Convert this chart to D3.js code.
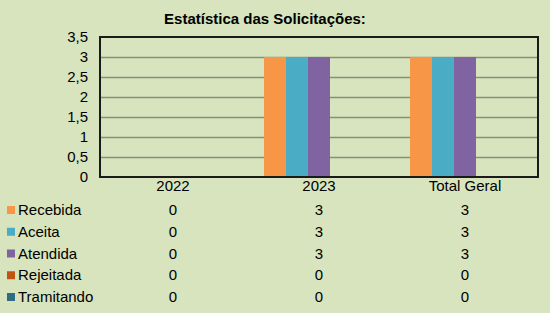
<!DOCTYPE html>
<html>
<head>
<meta charset="utf-8">
<script src="https://cdn.jsdelivr.net/npm/d3@7"></script>
<style>
	body { margin: 0; background: #D7E4BD; }
	svg { display: block; font-family: "Liberation Sans", Arial, sans-serif; }
</style>
</head>
<body>
<div id="chart"></div>
<script>
//Data
var categories = ["2022", "2023", "Total Geral"];
var series = ["Recebida", "Aceita", "Atendida", "Rejeitada", "Tramitando"];
var colors = ["#F79646", "#4BACC6", "#8064A2", "#C0550F", "#2E6E84"];
var values = [
	[0, 3, 3],	//Recebida
	[0, 3, 3],	//Aceita
	[0, 3, 3],	//Atendida
	[0, 0, 0],	//Rejeitada
	[0, 0, 0]	//Tramitando
];
var yTicks = [0, 0.5, 1, 1.5, 2, 2.5, 3, 3.5];

///////////////////////////////////////////////////////////////////////////
//////////////////////////// Set up svg ///////////////////////////////////
///////////////////////////////////////////////////////////////////////////

var width = 550, height = 313;
var plot = { left: 100, right: 538, top: 37, bottom: 177 };
var fontSize = "15px";

var svg = d3.select("#chart").append("svg")
	.attr("width", width)
	.attr("height", height);

svg.append("rect")
	.attr("width", width)
	.attr("height", height)
	.style("fill", "#D7E4BD");

//Title
svg.append("text")
	.attr("x", 265)
	.attr("y", 24)
	.attr("text-anchor", "middle")
	.style("font-size", fontSize)
	.style("font-weight", "bold")
	.style("fill", "#000")
	.text("Estatística das Solicitações:");

///////////////////////////////////////////////////////////////////////////
////////////////////////////// Scales /////////////////////////////////////
///////////////////////////////////////////////////////////////////////////

var x0 = d3.scaleBand()
	.domain(categories)
	.range([plot.left, plot.right]);

var x1 = d3.scaleBand()
	.domain(series)
	.range([0, x0.bandwidth()])
	.paddingOuter(0.82)
	.paddingInner(0);

var y = d3.scaleLinear()
	.domain([0, 3.5])
	.range([plot.bottom, plot.top]);

//Gridlines
svg.append("g")
	.selectAll("line")
	.data(yTicks.slice(1, -1))
	.enter().append("line")
	.attr("x1", plot.left)
	.attr("x2", plot.right)
	.attr("y1", function(d) { return Math.round(y(d)) + 0.5; })
	.attr("y2", function(d) { return Math.round(y(d)) + 0.5; })
	.style("stroke", "#868E80")
	.style("stroke-width", 1.5);

//Bars
var groups = svg.append("g")
	.selectAll("g")
	.data(series)
	.enter().append("g")
	.style("fill", function(d, i) { return colors[i]; });

groups.selectAll("rect")
	.data(function(d, i) { return categories.map(function(c, j) { return { s: d, c: c, v: values[i][j] }; }); })
	.enter().append("rect")
	.attr("x", function(d) { return x0(d.c) + x1(d.s); })
	.attr("width", x1.bandwidth())
	.attr("y", function(d) { return y(d.v); })
	.attr("height", function(d) { return y(0) - y(d.v); });

//Frame
svg.append("rect")
	.attr("x", plot.left)
	.attr("y", plot.top)
	.attr("width", plot.right - plot.left)
	.attr("height", plot.bottom - plot.top)
	.style("fill", "none")
	.style("stroke", "#1a1a1a")
	.style("stroke-width", 2);

//Y axis
var yAxis = svg.append("g")
	.attr("transform", "translate(" + plot.left + ",0)")
	.call(d3.axisLeft(y).tickValues(yTicks).tickSize(0).tickPadding(12)
		.tickFormat(function(d) { return String(d).replace(".", ","); }));
yAxis.select(".domain").remove();
yAxis.selectAll("text")
	.style("font-size", fontSize)
	.style("font-family", "Liberation Sans, Arial, sans-serif")
	.style("fill", "#000");

//X axis
var xAxis = svg.append("g")
	.attr("transform", "translate(0," + plot.bottom + ")")
	.call(d3.axisBottom(x0).tickSize(0).tickPadding(3));
xAxis.select(".domain").remove();
xAxis.selectAll("text")
	.style("font-size", fontSize)
	.style("font-family", "Liberation Sans, Arial, sans-serif")
	.style("fill", "#000");

///////////////////////////////////////////////////////////////////////////
///////////////////////////// Data table //////////////////////////////////
///////////////////////////////////////////////////////////////////////////

var rowY = d3.scalePoint()
	.domain(series)
	.range([215, 302]);

var rows = svg.append("g")
	.selectAll("g")
	.data(series)
	.enter().append("g")
	.attr("transform", function(d) { return "translate(0," + rowY(d) + ")"; });

rows.append("rect")
	.attr("x", 7)
	.attr("y", -9)
	.attr("width", 8)
	.attr("height", 8)
	.style("fill", function(d, i) { return colors[i]; });

rows.append("text")
	.attr("x", 18)
	.style("font-size", fontSize)
	.style("fill", "#000")
	.text(function(d) { return d; });

rows.selectAll(".val")
	.data(function(d, i) { return values[i]; })
	.enter().append("text")
	.attr("class", "val")
	.attr("x", function(d, j) { return x0(categories[j]) + x0.bandwidth() / 2; })
	.attr("text-anchor", "middle")
	.style("font-size", fontSize)
	.style("fill", "#000")
	.text(function(d) { return d; });
</script>
</body>
</html>
